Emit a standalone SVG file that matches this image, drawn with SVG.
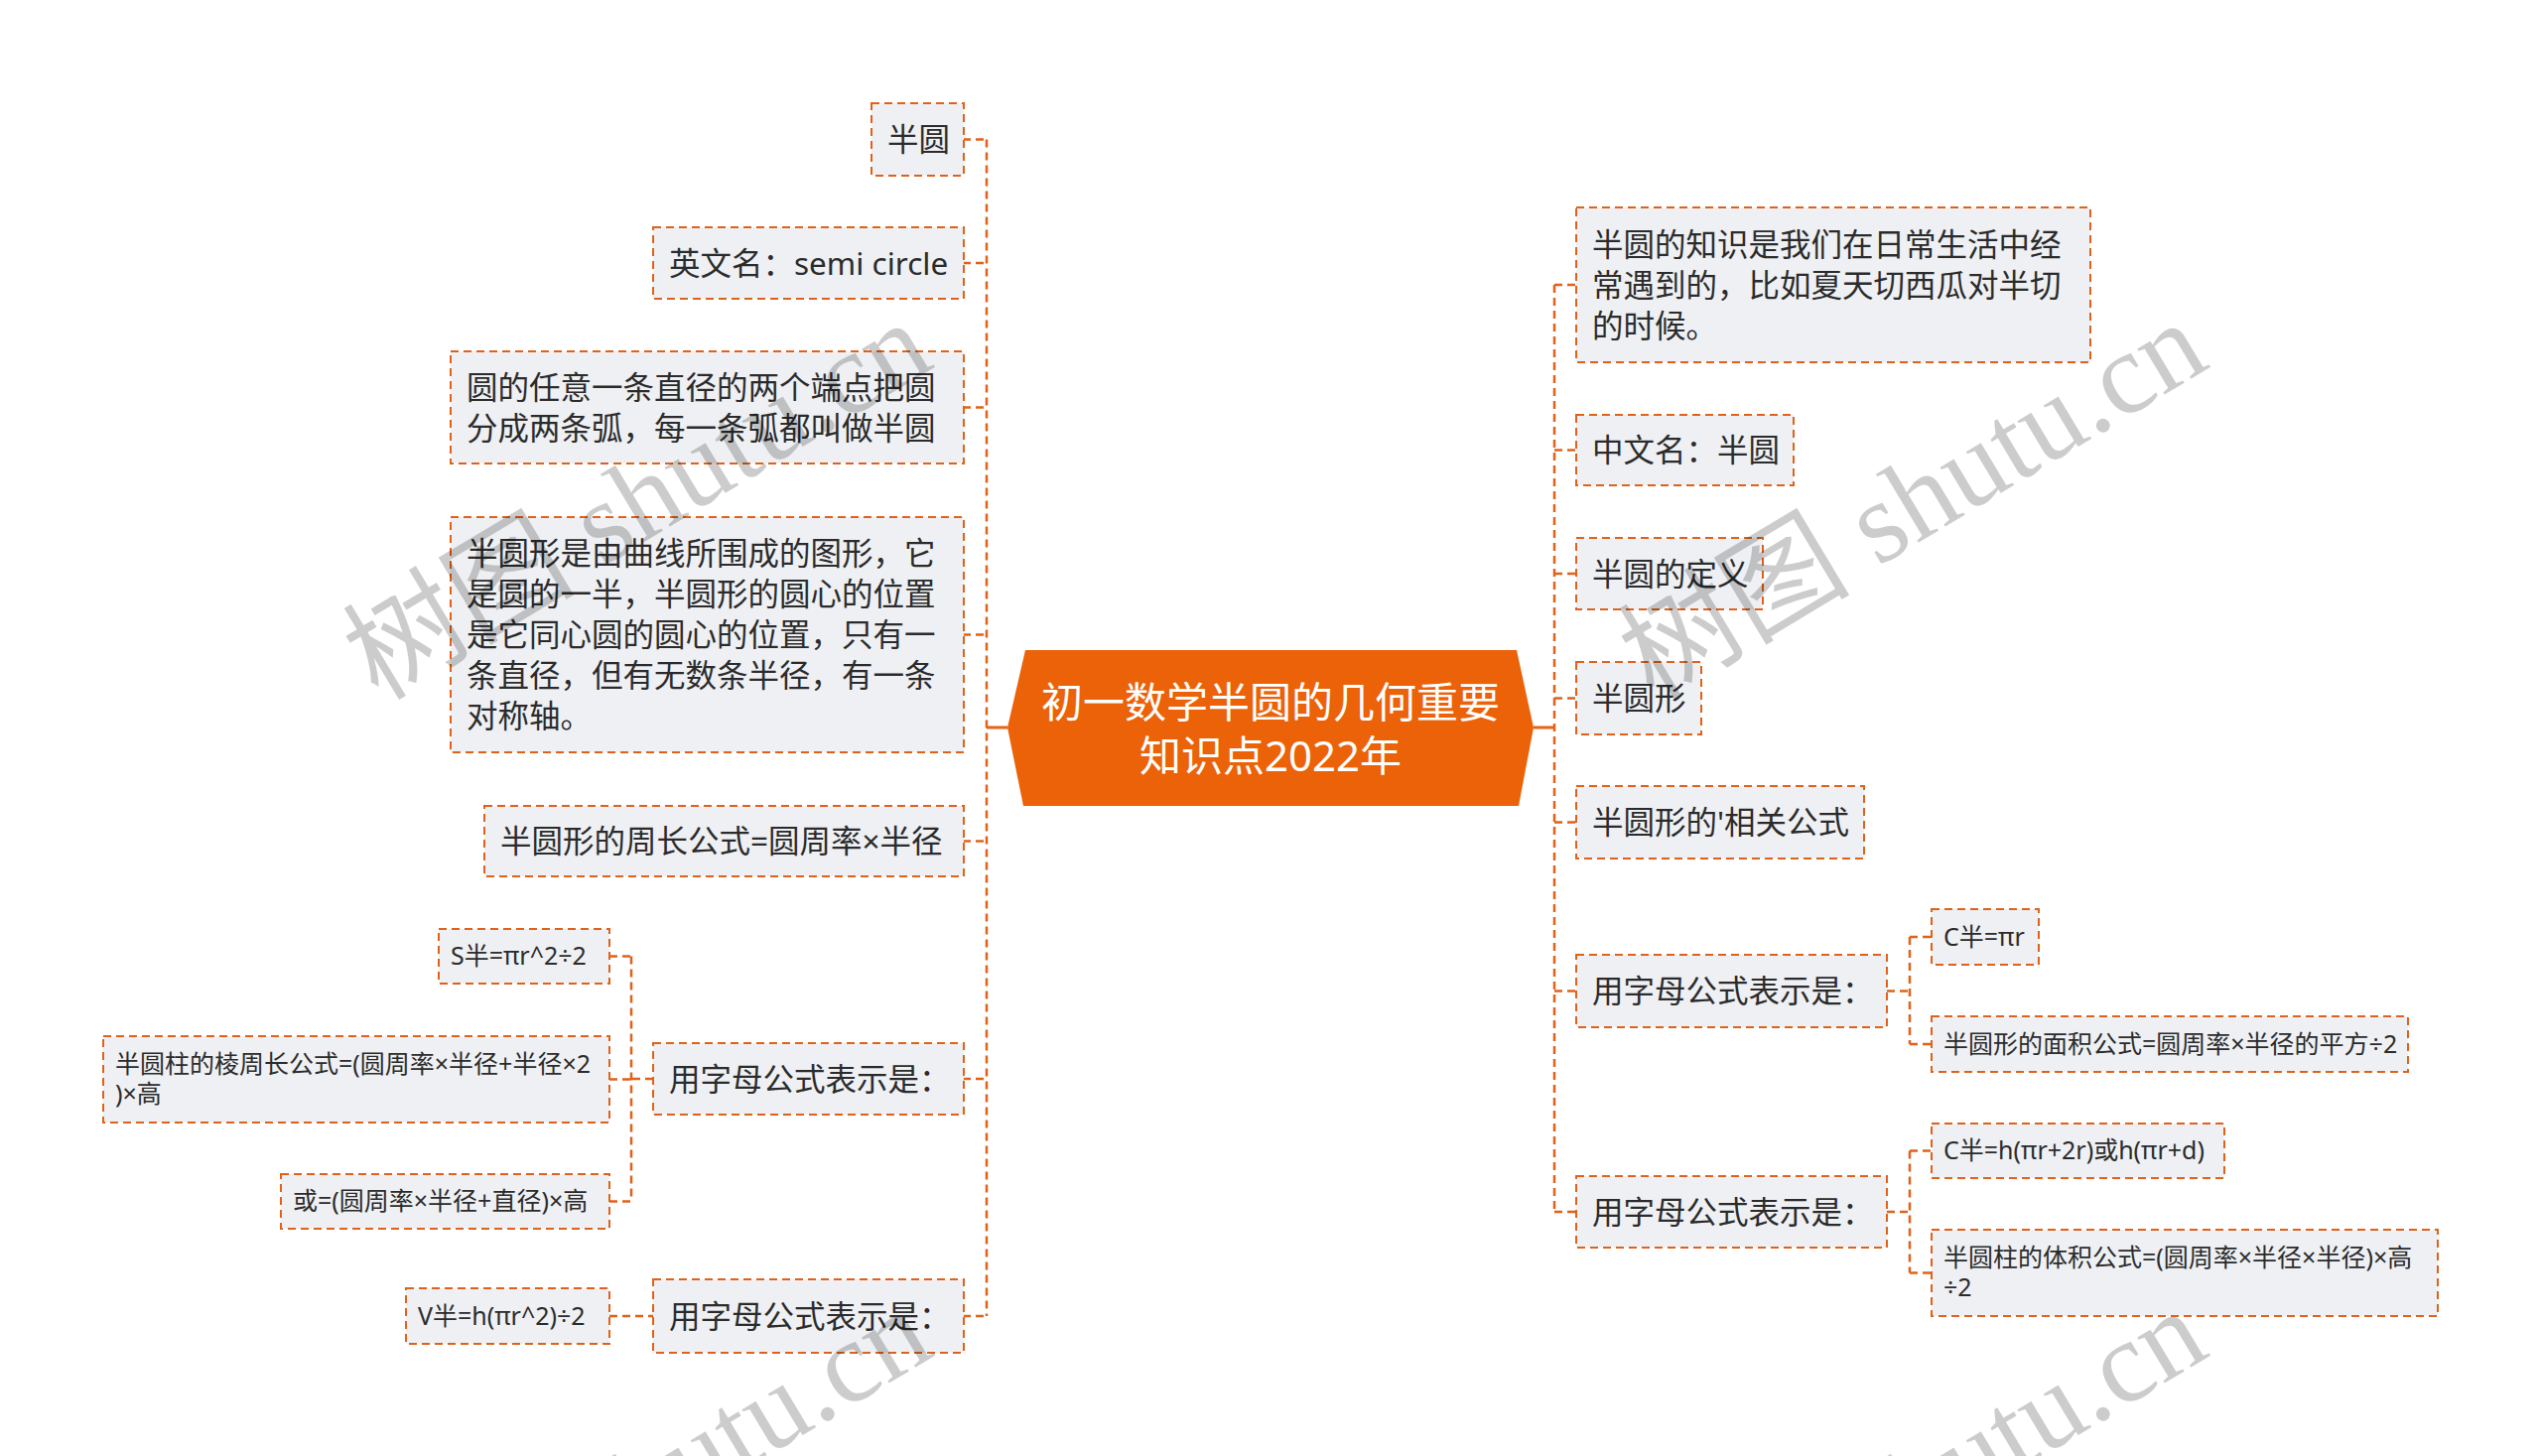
<svg xmlns="http://www.w3.org/2000/svg" width="2560" height="1467" viewBox="0 0 2560 1467">
<style>
.bg{fill:#ffffff}
.box{fill:#eef0f3;stroke:#e0621a;stroke-width:2;stroke-dasharray:8 5}
.t{font-family:"Noto Sans","Noto Sans CJK SC",sans-serif;font-size:31.5px;fill:#2b2b2b}
.s{font-size:25px}
.c{stroke:#e0621a;stroke-width:2.5;stroke-dasharray:8 5;fill:none}
.cs{stroke:#e86414;stroke-width:3;fill:none}
.ctr{fill:#eb6209}
.ct{font-family:"Noto Sans","Noto Sans CJK SC",sans-serif;font-size:42px;fill:#ffffff;text-anchor:middle}
.wm{font-family:"Liberation Serif","Noto Sans CJK SC",serif;font-size:117px;fill:#000;fill-opacity:0.2}
</style>
<rect class="bg" x="0" y="0" width="2560" height="1467"/>
<g id="connectors">
<path class="cs" d="M994,733H1015 M1545,733H1566"/>
<path class="c" d="M994,140.5V1326 M970,140.5H994 M970,265H994 M970,410.5H994 M970,639.5H994 M970,847.5H994 M970,1087H994 M970,1326H994"/>
<path class="c" d="M658,1087H636 M636,963.5V1210.5 M614,963.5H636 M614,1087.5H636 M614,1210.5H636 M614,1326H658"/>
<path class="c" d="M1566,287V1221 M1566,287H1588 M1566,453.5H1588 M1566,578H1588 M1566,703.5H1588 M1566,828.5H1588 M1566,998.5H1588 M1566,1221H1588"/>
<path class="c" d="M1901,998.5H1924 M1924,944V1052 M1924,944H1946 M1924,1052H1946"/>
<path class="c" d="M1901,1221H1924 M1924,1159.5V1282.5 M1924,1159.5H1946 M1924,1282.5H1946"/>
</g>
<g id="center">
<polygon class="ctr" points="1015,733 1033,655 1528,655 1545,733 1530,812 1031,812"/>
<text class="ct" x="1280" y="723">初一数学半圆的几何重要</text>
<text class="ct" x="1280" y="777">知识点2022年</text>
</g>
<g id="n1"><rect class="box" x="878" y="104" width="93" height="73"/><text class="t" x="894" y="152">半圆</text></g>
<g id="n2"><rect class="box" x="658" y="229" width="313" height="72"/><text class="t" x="674" y="276.5">英文名：semi circle</text></g>
<g id="n3"><rect class="box" x="454" y="354" width="517" height="113"/><text class="t" x="470" y="401.5">圆的任意一条直径的两个端点把圆</text><text class="t" x="470" y="442.5">分成两条弧，每一条弧都叫做半圆</text></g>
<g id="n4"><rect class="box" x="454" y="521" width="517" height="237"/>
<text class="t" x="470" y="569">半圆形是由曲线所围成的图形，它</text>
<text class="t" x="470" y="610">是圆的一半，半圆形的圆心的位置</text>
<text class="t" x="470" y="651">是它同心圆的圆心的位置，只有一</text>
<text class="t" x="470" y="692">条直径，但有无数条半径，有一条</text>
<text class="t" x="470" y="733">对称轴。</text></g>
<g id="n5"><rect class="box" x="488" y="812" width="483" height="71"/><text class="t" x="504" y="859">半圆形的周长公式=圆周率×半径</text></g>
<g id="n6"><rect class="box" x="658" y="1051" width="313" height="72"/><text class="t" x="674" y="1098.5">用字母公式表示是：</text></g>
<g id="n7"><rect class="box" x="442" y="936" width="172" height="55"/><text class="t s" x="454" y="972">S半=πr^2÷2</text></g>
<g id="n8"><rect class="box" x="104" y="1044" width="510" height="87"/><text class="t s" x="116" y="1081">半圆柱的棱周长公式=(圆周率×半径+半径×2</text><text class="t s" x="116" y="1111">)×高</text></g>
<g id="n9"><rect class="box" x="283" y="1183" width="331" height="55"/><text class="t s" x="295" y="1219">或=(圆周率×半径+直径)×高</text></g>
<g id="n10"><rect class="box" x="658" y="1289" width="313" height="74"/><text class="t" x="674" y="1337.5">用字母公式表示是：</text></g>
<g id="n11"><rect class="box" x="409" y="1298" width="205" height="56"/><text class="t s" x="421" y="1334.5">V半=h(πr^2)÷2</text></g>
<g id="r1"><rect class="box" x="1588" y="209" width="518" height="156"/>
<text class="t" x="1604" y="257.5">半圆的知识是我们在日常生活中经</text>
<text class="t" x="1604" y="298.5">常遇到的，比如夏天切西瓜对半切</text>
<text class="t" x="1604" y="339.5">的时候。</text></g>
<g id="r2"><rect class="box" x="1588" y="418" width="219" height="71"/><text class="t" x="1604" y="465">中文名：半圆</text></g>
<g id="r3"><rect class="box" x="1588" y="542" width="188" height="72"/><text class="t" x="1604" y="589.5">半圆的定义</text></g>
<g id="r4"><rect class="box" x="1588" y="667" width="126" height="73"/><text class="t" x="1604" y="715">半圆形</text></g>
<g id="r5"><rect class="box" x="1588" y="792" width="290" height="73"/><text class="t" x="1604" y="840">半圆形的'相关公式</text></g>
<g id="r6"><rect class="box" x="1588" y="962" width="313" height="73"/><text class="t" x="1604" y="1010">用字母公式表示是：</text></g>
<g id="r7"><rect class="box" x="1946" y="916" width="108" height="56"/><text class="t s" x="1958" y="952.5">C半=πr</text></g>
<g id="r8"><rect class="box" x="1946" y="1024" width="480" height="56"/><text class="t s" x="1958" y="1060.5">半圆形的面积公式=圆周率×半径的平方÷2</text></g>
<g id="r9"><rect class="box" x="1588" y="1185" width="313" height="72"/><text class="t" x="1604" y="1232.5">用字母公式表示是：</text></g>
<g id="r10"><rect class="box" x="1946" y="1132" width="295" height="55"/><text class="t s" x="1958" y="1168">C半=h(πr+2r)或h(πr+d)</text></g>
<g id="r11"><rect class="box" x="1946" y="1239" width="510" height="87"/><text class="t s" x="1958" y="1276">半圆柱的体积公式=(圆周率×半径×半径)×高</text><text class="t s" x="1958" y="1306">÷2</text></g>
<g id="watermark">
<text class="wm" transform="translate(381,707) rotate(-31)">树图 shutu.cn</text>
<text class="wm" transform="translate(1666,707) rotate(-31)">树图 shutu.cn</text>
<text class="wm" transform="translate(381,1703) rotate(-31)">树图 shutu.cn</text>
<text class="wm" transform="translate(1666,1703) rotate(-31)">树图 shutu.cn</text>
</g>
</svg>
